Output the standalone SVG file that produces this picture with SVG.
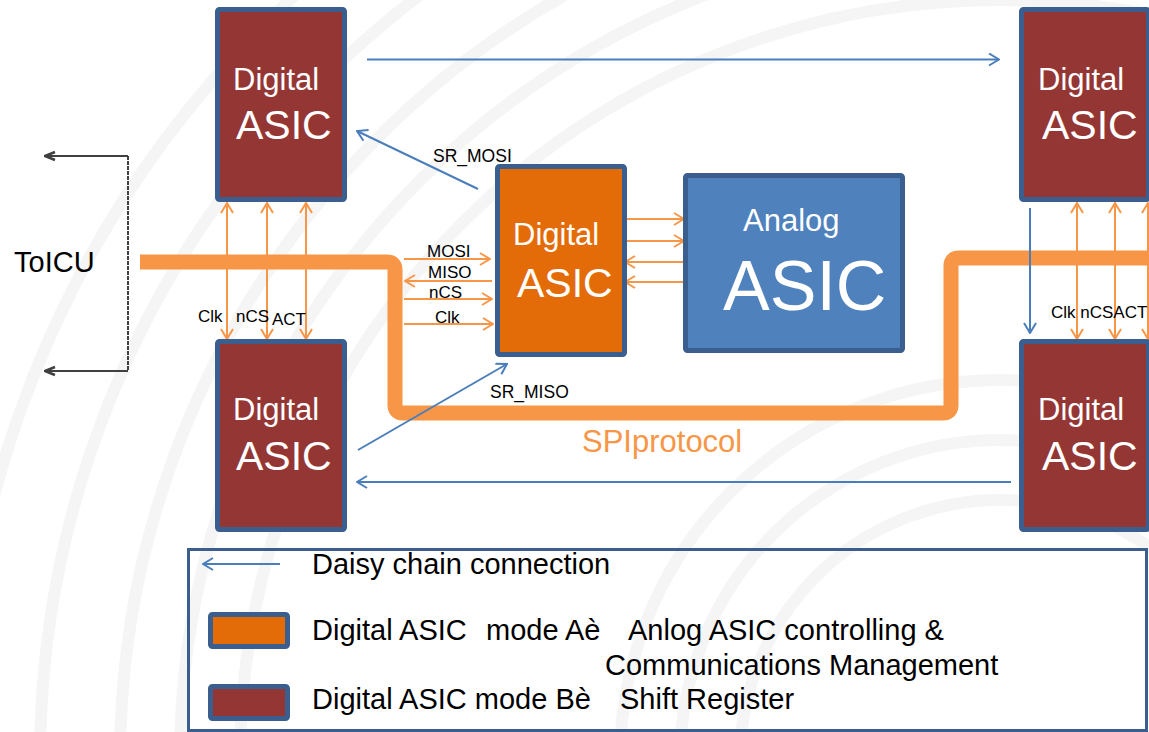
<svg xmlns="http://www.w3.org/2000/svg" width="1149" height="732" viewBox="0 0 1149 732">
<style>
text{font-family:"Liberation Sans",Arial,sans-serif}
.box{stroke:#3a5f8f;stroke-width:5}
.sr{fill:#943634}
.ma{fill:#e36c09}
.an{fill:#4f81bd}
.wt{fill:#ffffff}
.bk{fill:#000000}
.or{stroke:#f79646;stroke-width:2;fill:none}
.bl{stroke:#4a7ebb;stroke-width:2;fill:none}
.gr{stroke:#404040;stroke-width:2;fill:none}
.bg{fill:none;stroke:#f5f5f5;stroke-width:12}
</style>
<defs>
<marker id="ao" viewBox="0 0 12 14" refX="11" refY="7" markerWidth="12" markerHeight="14" markerUnits="userSpaceOnUse" orient="auto-start-reverse"><path d="M1,1 L11,7 L1,13" fill="none" stroke="#f79646" stroke-width="2"/></marker>
<marker id="ab" viewBox="0 0 12 14" refX="11" refY="7" markerWidth="12" markerHeight="14" markerUnits="userSpaceOnUse" orient="auto-start-reverse"><path d="M1,1 L11,7 L1,13" fill="none" stroke="#4a7ebb" stroke-width="2"/></marker>
<marker id="ag" viewBox="0 0 12 12" refX="11" refY="6" markerWidth="12" markerHeight="12" markerUnits="userSpaceOnUse" orient="auto"><path d="M1,2 L11,6 L1,10" fill="none" stroke="#404040" stroke-width="2.5"/></marker>
</defs>
<rect width="1149" height="732" fill="#ffffff"/>
<g id="background">
<circle class="bg" cx="1000" cy="760" r="760"/>
<circle class="bg" cx="1000" cy="760" r="820"/>
<circle class="bg" cx="1000" cy="760" r="880"/>
<circle class="bg" cx="1000" cy="760" r="960"/>
<circle class="bg" cx="1000" cy="760" r="1040"/>
<circle class="bg" cx="1000" cy="760" r="260"/>
<circle class="bg" cx="1000" cy="760" r="320"/>
<circle class="bg" cx="1000" cy="760" r="380"/>
</g>
<g id="connectors">
<path id="spi-bus" d="M140,262 H387 Q395,262 395,270 V405 Q395,413 403,413 H943 Q951,413 951,405 V266 Q951,258 959,258 H1149" fill="none" stroke="#f79646" stroke-width="15"/>
<path class="gr" d="M128,156 H45" marker-end="url(#ag)"/>
<path class="gr" d="M128,371 H45" marker-end="url(#ag)"/>
<path class="gr" d="M128,156 V371" stroke-dasharray="4 1"/>
<line class="or" x1="227" y1="203" x2="227" y2="339" marker-start="url(#ao)" marker-end="url(#ao)"/>
<line class="or" x1="267" y1="203" x2="267" y2="339" marker-start="url(#ao)" marker-end="url(#ao)"/>
<line class="or" x1="306" y1="203" x2="306" y2="339" marker-start="url(#ao)" marker-end="url(#ao)"/>
<line class="or" x1="1077" y1="203" x2="1077" y2="339" marker-start="url(#ao)" marker-end="url(#ao)"/>
<line class="or" x1="1115" y1="203" x2="1115" y2="339" marker-start="url(#ao)" marker-end="url(#ao)"/>
<line class="or" x1="1148" y1="203" x2="1148" y2="339" marker-start="url(#ao)" marker-end="url(#ao)"/>
<line class="or" x1="404" y1="259" x2="490" y2="259" marker-end="url(#ao)"/>
<line class="or" x1="492" y1="281" x2="405" y2="281" marker-end="url(#ao)"/>
<line class="or" x1="404" y1="299" x2="492" y2="299" marker-end="url(#ao)"/>
<line class="or" x1="404" y1="324" x2="493" y2="324" marker-end="url(#ao)"/>
<line class="or" x1="624" y1="219" x2="684" y2="219" marker-end="url(#ao)"/>
<line class="or" x1="624" y1="241" x2="684" y2="241" marker-end="url(#ao)"/>
<line class="or" x1="684" y1="262" x2="625" y2="262" marker-end="url(#ao)"/>
<line class="or" x1="684" y1="282" x2="625" y2="282" marker-end="url(#ao)"/>
<line class="bl" x1="367" y1="59.5" x2="999" y2="59.5" marker-end="url(#ab)"/>
<line class="bl" x1="478" y1="189" x2="357" y2="131" marker-end="url(#ab)"/>
<line class="bl" x1="358" y1="450" x2="507" y2="364" marker-end="url(#ab)"/>
<line class="bl" x1="1030" y1="208" x2="1030" y2="333" marker-end="url(#ab)"/>
<line class="bl" x1="1011" y1="482" x2="357" y2="482" marker-end="url(#ab)"/>
</g>
<g id="labels">
<text x="14" y="272" font-size="29" class="bk">ToICU</text>
<text x="198" y="322" font-size="17" class="bk">Clk</text>
<text x="236" y="322" font-size="17" class="bk">nCS</text>
<text x="272" y="325" font-size="17" class="bk">ACT</text>
<text x="1051" y="318" font-size="17" class="bk">Clk nCSACT</text>
<text x="427" y="257" font-size="17" class="bk">MOSI</text>
<text x="428" y="278" font-size="17" class="bk">MISO</text>
<text x="429" y="298" font-size="17" class="bk">nCS</text>
<text x="435" y="323" font-size="17" class="bk">Clk</text>
<text x="433" y="162" font-size="17.5" class="bk">SR_MOSI</text>
<text x="490" y="398" font-size="17.5" class="bk">SR_MISO</text>
<text x="582" y="452" font-size="31" fill="#f79646">SPIprotocol</text>
</g>
<g id="asic-top-left">
<rect class="box sr" x="217.5" y="9.5" width="127" height="190" rx="2"/>
<text class="wt" x="233" y="90" font-size="31">Digital</text>
<text class="wt" x="236" y="139" font-size="41">ASIC</text>
</g>
<g id="asic-bottom-left">
<rect class="box sr" x="217.5" y="341.5" width="127" height="188" rx="2"/>
<text class="wt" x="233" y="420" font-size="31">Digital</text>
<text class="wt" x="236" y="470" font-size="41">ASIC</text>
</g>
<g id="asic-top-right">
<rect class="box sr" x="1021.5" y="9.5" width="127" height="190" rx="2"/>
<text class="wt" x="1038" y="90" font-size="31">Digital</text>
<text class="wt" x="1042" y="139" font-size="41">ASIC</text>
</g>
<g id="asic-bottom-right">
<rect class="box sr" x="1021.5" y="341.5" width="127" height="188" rx="2"/>
<text class="wt" x="1038" y="420" font-size="31">Digital</text>
<text class="wt" x="1042" y="470" font-size="41">ASIC</text>
</g>
<g id="asic-master">
<rect class="box ma" x="497.5" y="166.5" width="127" height="188" rx="2"/>
<text class="wt" x="513" y="245" font-size="31">Digital</text>
<text class="wt" x="517" y="297" font-size="41">ASIC</text>
</g>
<g id="analog-asic">
<rect class="box an" x="685.5" y="175.5" width="217" height="175" rx="2"/>
<text class="wt" x="743" y="231" font-size="31">Analog</text>
<text class="wt" x="723" y="310" font-size="70">ASIC</text>
</g>
<g id="legend">
<rect x="188.5" y="549.5" width="958" height="181" fill="none" stroke="#3a5f8f" stroke-width="3"/>
<line class="bl" x1="280" y1="564" x2="203" y2="564" marker-end="url(#ab)"/>
<text x="312" y="574" font-size="29" class="bk">Daisy chain connection</text>
<rect class="box ma" x="210.5" y="614.5" width="77" height="32" rx="2"/>
<text y="640" font-size="29" class="bk"><tspan x="312">Digital ASIC</tspan><tspan x="486">mode Aè</tspan><tspan x="628">Anlog ASIC controlling &amp;</tspan></text>
<text x="605" y="675" font-size="29" class="bk">Communications Management</text>
<rect class="box sr" x="210.5" y="686.5" width="77" height="32" rx="2"/>
<text y="709" font-size="29" class="bk"><tspan x="312">Digital ASIC mode Bè</tspan><tspan x="620">Shift Register</tspan></text>
</g>
</svg>
